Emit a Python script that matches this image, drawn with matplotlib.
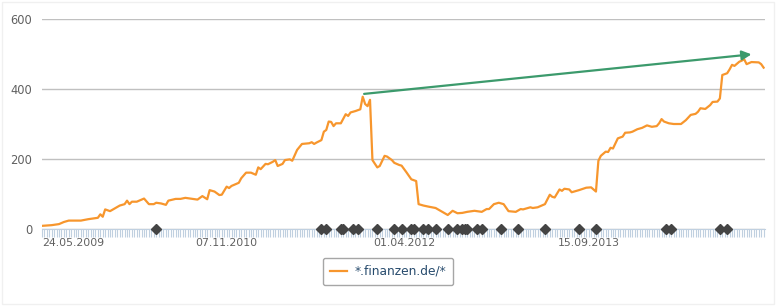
import numpy as np
import matplotlib
matplotlib.use("Agg")
import matplotlib.pyplot as plt

# weekly series, x = weeks since 24.05.2009
start = np.datetime64("2009-05-24")
weeks = [0, 4, 7, 9, 11, 16, 19, 23, 24, 25, 26, 28, 30, 32, 34, 35, 36, 37, 39, 42,
         44, 46, 47, 49, 50, 51, 52, 55, 57, 59, 61, 64, 66, 68, 69, 71, 73, 74, 76, 77,
         78, 81, 82, 84, 86, 88, 89, 90, 92, 93, 95, 96, 97, 99, 100, 102, 103, 105, 107, 110,
         111, 112, 113, 115, 116, 117, 118, 119, 120, 121, 123, 125, 126, 127, 129, 131, 132, 133, 134, 135,
         136, 138, 139, 141, 142, 144, 145, 147, 148, 150, 152, 154, 155, 157, 159, 162, 164, 167, 169, 171,
         173, 175, 178, 181, 183, 184, 186, 188, 190, 192, 195, 197, 198, 201, 202, 204, 207, 209, 210, 211,
         213, 214, 215, 217, 218, 221, 224, 226, 228, 229, 230, 232, 233, 234, 235, 237, 239, 240, 242, 243,
         245, 247, 249, 251, 253, 254, 255, 256, 258, 260, 263, 265, 267, 269, 270, 271, 273, 275, 276, 278,
         279, 280, 282, 283, 284, 285, 287, 288, 289, 290, 292, 295, 296, 297]
values = [9, 11, 14, 20, 24, 24, 28, 32, 42, 35, 56, 51, 59, 67, 71, 81, 71, 78, 78, 87,
          71, 71, 75, 73, 71, 69, 81, 86, 86, 89, 87, 84, 94, 85, 111, 107, 97, 98, 121, 117,
          123, 132, 145, 161, 161, 155, 176, 171, 186, 185, 192, 197, 180, 186, 197, 199, 195, 226, 243, 245,
          248, 243, 247, 254, 278, 283, 307, 306, 294, 302, 302, 328, 323, 333, 337, 342, 378, 357, 351, 369,
          197, 176, 180, 209, 207, 197, 189, 183, 181, 162, 142, 137, 71, 67, 64, 60, 52, 40, 52, 45,
          46, 49, 52, 49, 57, 57, 71, 75, 71, 51, 49, 57, 56, 62, 60, 62, 71, 98, 92, 90,
          113, 109, 115, 113, 105, 111, 118, 119, 107, 195, 209, 221, 220, 232, 230, 259, 264, 275, 276, 278,
          285, 289, 296, 292, 294, 302, 314, 307, 302, 300, 300, 311, 326, 329, 335, 345, 343, 354, 363, 364,
          373, 440, 445, 456, 469, 466, 478, 481, 485, 471, 477, 476, 471, 461]

# events shown as diamonds on the axis
event_weeks = [47, 115, 117, 123, 124, 128, 130, 138, 145, 148, 152, 153, 157, 159, 162, 167,
               171, 173, 174, 175, 179, 181, 189, 196, 207, 221, 228, 257, 259, 279, 282]

# trend arrow
arrow_weeks = [132.6, 292.0]
arrow_values = [386, 499]

tick_dates = ["2009-05-24", "2010-11-07", "2012-04-01", "2013-09-15"]
tick_labels = ["24.05.2009", "07.11.2010", "01.04.2012", "15.09.2013"]
series_name = "*.finanzen.de/*"

week = np.timedelta64(7, "D")


def to_date(w):
    return start + np.round(np.asarray(w) * 7).astype(int) * np.timedelta64(1, "D")


dates = to_date(weeks)

fig = plt.figure(figsize=(7.76, 3.06), dpi=100)
fig.patch.set_facecolor("white")
ax = fig.add_axes([42 / 776, 77 / 306, 723 / 776, 210 / 306])

for s in ax.spines.values():
    s.set_visible(False)
ax.spines["bottom"].set_visible(True)
ax.spines["bottom"].set_color("#c0d0e0")

ax.set_ylim(0, 600)
ax.set_yticks([0, 200, 400, 600])
ax.yaxis.grid(True, color="#c0c0c0", lw=1)
ax.set_axisbelow(True)
ax.tick_params(axis="y", length=0, pad=7, labelsize=8.3, labelcolor="#606060")

ax.plot(dates, values, color="#f7962d", lw=1.6, zorder=3, label=series_name,
        solid_joinstyle="round")

ax.plot(to_date(event_weeks), np.zeros(len(event_weeks)), ls="none", marker="D",
        ms=5.2, color="#444444", clip_on=False, zorder=4)

ax.annotate("", xy=(to_date(arrow_weeks[1]), arrow_values[1]),
            xytext=(to_date(arrow_weeks[0]), arrow_values[0]),
            arrowprops=dict(arrowstyle="-|>", color="#3c9a6c", lw=1.6,
                            mutation_scale=14, shrinkA=0, shrinkB=0))

ax.set_xlim(start, start + np.timedelta64(2083, "D"))
ax.set_xticks(np.array(tick_dates, dtype="datetime64[D]"))
ax.set_xticklabels(tick_labels)
ax.set_xticks(start + np.arange(0, 298) * week, minor=True)
ax.tick_params(axis="x", which="both", direction="out", length=6, width=0.8,
               color="#c0d0e0", labelsize=7.8, labelcolor="#606060", pad=0.5)
ax.get_xticklabels()[0].set_horizontalalignment("left")

leg = fig.legend(loc="center", bbox_to_anchor=(0.5, 0.113), frameon=True,
                 fancybox=True, edgecolor="#909090", fontsize=8.8, handlelength=1.4,
                 borderpad=0.6, handletextpad=0.6)
for t in leg.get_texts():
    t.set_color("#274b6d")
leg.get_frame().set_linewidth(1)

fig.add_artist(plt.Rectangle((0.003, 0.007), 0.994, 0.986, transform=fig.transFigure,
                             fill=False, edgecolor="#f0f0f0", lw=1))

fig.savefig("out.png", dpi=100)
